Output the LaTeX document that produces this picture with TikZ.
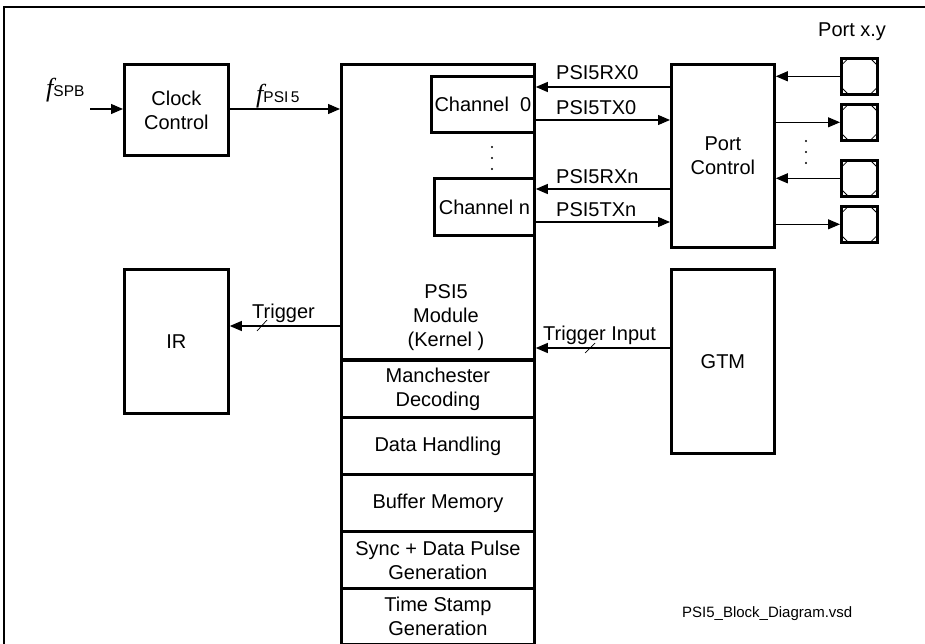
\documentclass[tikz,border=0pt]{standalone}
\usepackage{fontspec}
\setmainfont{Liberation Sans}
\newfontfamily\seriffam{Liberation Serif}
\usetikzlibrary{arrows.meta}
\newcommand\txt{\fontsize{20}{24}\selectfont}
\newcommand\smalltxt{\fontsize{15}{18}\selectfont}
\begin{document}
\begin{tikzpicture}[x=1pt,y=-1pt,
  blk/.style={draw, line width=2.8pt, inner sep=0pt, anchor=north west, align=center, font=\txt},
  sig/.style={line width=1.1pt, -{Triangle[length=12pt,width=10pt]}},
  lbl/.style={inner sep=0pt, anchor=base west, font=\txt},
  slash/.style={line width=0.7pt},
  pad/.style={draw, line width=2.6pt, inner sep=0pt, anchor=north west, minimum width=36pt, minimum height=36pt,
    path picture={
      \draw[line width=0.8pt] ([yshift=-7pt]path picture bounding box.north west) -- ([xshift=7pt]path picture bounding box.north west);
      \draw[line width=0.8pt] ([yshift=-7pt]path picture bounding box.north east) -- ([xshift=-7pt]path picture bounding box.north east);
      \draw[line width=0.8pt] ([yshift=7pt]path picture bounding box.south west) -- ([xshift=7pt]path picture bounding box.south west);
      \draw[line width=0.8pt] ([yshift=7pt]path picture bounding box.south east) -- ([xshift=-7pt]path picture bounding box.south east);
    }},
  dotc/.style={circle, fill, inner sep=0pt, minimum size=2.2pt}
]
\useasboundingbox (0,0) rectangle (925,644);
% frame
\draw[line width=1.6pt] (4,644) -- (4,7) -- (925,7);

% blocks
\node[blk, minimum width=104pt, minimum height=91pt] (clk) at (123,63) {Clock\\Control};
\node[blk, minimum width=193pt, minimum height=295pt] (kern) at (340,63) {};
\node[inner sep=0pt, align=center, font=\txt] (kerntext) at (446,318) {PSI5\\Module\\(Kernel )};
\node[blk, minimum width=103pt, minimum height=56pt] (ch0) at (430,75) {Channel\ \ 0};
\node[blk, minimum width=100pt, minimum height=57pt] (chn) at (433,177) {Channel n};
\node[blk, minimum width=193pt, minimum height=57pt] (man) at (340,359) {Manchester\\Decoding};
\node[blk, minimum width=193pt, minimum height=57pt] (dat) at (340,416) {Data Handling};
\node[blk, minimum width=193pt, minimum height=57pt] (buf) at (340,473) {Buffer Memory};
\node[blk, minimum width=193pt, minimum height=57pt] (syn) at (340,530) {Sync + Data Pulse\\Generation};
\node[blk, minimum width=193pt, minimum height=56pt] (tim) at (340,587) {Time Stamp\\Generation};
\node[blk, minimum width=103pt, minimum height=183pt] (pc) at (670,63) {Port\\Control};
\node[blk, minimum width=103pt, minimum height=184pt] (gtm) at (670,268) {GTM};
\node[blk, minimum width=104pt, minimum height=144pt] (ir) at (123,268) {IR};

% pads
\node[pad] (p1) at (840,57) {};
\node[pad] (p2) at (840,103) {};
\node[pad] (p3) at (840,159) {};
\node[pad] (p4) at (840,205) {};
\node[lbl] (portxy) at (818,37) {Port x.y};

% dots
\node[dotc] (d1) at (492,147) {};
\node[dotc] (d2) at (492,158) {};
\node[dotc] (d3) at (492,169) {};
\node[dotc] (d4) at (806,141) {};
\node[dotc] (d5) at (806,152) {};
\node[dotc] (d6) at (806,163) {};

% clock
\coordinate (fin) at (90,109);
\draw[sig] (fin) -- (clk.west |- fin);
\draw[sig] (clk.east |- fin) -- (kern.west |- fin);
\node[inner sep=0pt, anchor=base west] (fspb) at (46,97) {{\seriffam\itshape\fontsize{26}{26}\selectfont f}{\fontsize{15.5}{16}\selectfont SPB}};
\node[inner sep=0pt, anchor=base west] (fpsi) at (256,103) {{\seriffam\itshape\fontsize{26}{26}\selectfont f}{\fontsize{15.5}{16}\selectfont PSI\,5}};

% channel signals
\draw[sig] (pc.west |- 0,87) -- (ch0.east |- 0,87);
\draw[sig] (ch0.east |- 0,120) -- (pc.west |- 0,120);
\draw[sig] (pc.west |- 0,189) -- (chn.east |- 0,189);
\draw[sig] (chn.east |- 0,222) -- (pc.west |- 0,222);
\node[lbl] (lrx0) at (556,80) {PSI5RX0};
\node[lbl] (ltx0) at (556,115) {PSI5TX0};
\node[lbl] (lrxn) at (556,184) {PSI5RXn};
\node[lbl] (ltxn) at (556,217) {PSI5TXn};

% pad signals
\draw[sig] (p1.west) -- (pc.east |- p1.west);
\draw[sig] (pc.east |- p2.west) -- (p2.west);
\draw[sig] (p3.west) -- (pc.east |- p3.west);
\draw[sig] (pc.east |- p4.west) -- (p4.west);

% triggers
\draw[sig] (kern.west |- 0,326) -- (ir.east |- 0,326);
\node[lbl] (ltrig) at (252,318) {Trigger};
\draw[slash] (257,331) -- (267,320);
\draw[sig] (gtm.west |- 0,348) -- (kern.east |- 0,348);
\node[lbl] (ltrigin) at (543,340) {Trigger Input};
\draw[slash] (585,353) -- (595,343);

% footer
\node[inner sep=0pt, anchor=base west, font=\smalltxt] (foot) at (682,617) {PSI5\_Block\_Diagram.vsd};
\end{tikzpicture}
\end{document}
